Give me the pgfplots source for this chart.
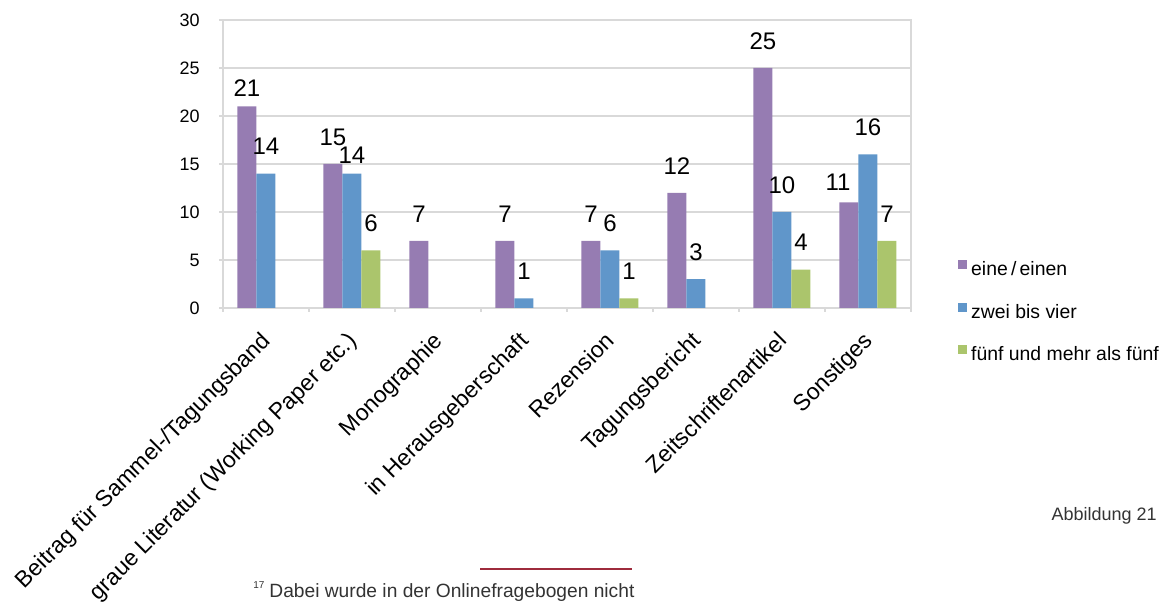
\documentclass[border=0pt]{standalone}
\usepackage{pgfplots}
\pgfplotsset{compat=1.18}
\usepackage{pgfplotstable}
\usepackage{fontspec}
\setmainfont{Liberation Sans}
\definecolor{cP}{HTML}{967CB2}
\definecolor{cB}{HTML}{6096CA}
\definecolor{cG}{HTML}{ABC56C}
\definecolor{gridc}{HTML}{D9D9D9}
\definecolor{fnred}{HTML}{9E2B3C}

\pgfplotstableread{
x y dy dx
0 21 9 0
1 15 13.5 0
2 7 13.5 0
3 7 13.5 0
4 7 13.5 0
5 12 13.5 0
6 25 13.5 0
7 11 10 -5.5
}\tabP
\pgfplotstableread{
x y dy dx
0 14 13.5 0
1 14 9 0
3 1 13.5 0
4 6 13.5 0
5 3 13.5 0
6 10 13.5 0
7 16 13.5 0
}\tabB
\pgfplotstableread{
x y dy dx
1 6 13.5 0
4 1 13.5 0
6 4 13.5 0
7 7 13.5 0
}\tabG

\begin{document}
\begin{tikzpicture}
\useasboundingbox (0,0) rectangle (581.5pt,302.5pt);
\begin{axis}[
  at={(111.5pt,148.5pt)}, anchor=south west,
  scale only axis, width=344pt, height=144pt,
  xmin=-0.5, xmax=7.5, ymin=0, ymax=30,
  /pgf/number format/assume math mode=true,
  ytick={0,5,...,30},
  xtick={-0.5,0.5,...,7.5},
  xticklabels={},
  extra x ticks={0,1,2,3,4,5,6,7},
  extra x tick labels={Beitrag für Sammel-/Tagungsband,graue Literatur (Working Paper etc.),Monographie,in Herausgeberschaft,Rezension,Tagungsbericht,Zeitschriftenartikel,Sonstiges},
  extra x tick style={major tick length=0pt,
     xticklabel style={xshift=-3pt, yshift=-11pt, rotate=45, anchor=north east, inner sep=0pt, font=\fontsize{11.5}{11.5}\selectfont}},
  ymajorgrids, major grid style={gridc, line width=1pt},
  axis line style={gridc, line width=1pt},
  tick style={gridc, line width=1pt},
  tick align=outside, tick pos=left,
  major tick length=2pt,
  yticklabel style={inner sep=0pt, xshift=-9.5pt, font=\fontsize{9}{9}\selectfont},
  ybar, bar width=9.5pt,
  legend style={at={(rel axis cs:1.068,0.168)}, anchor=north west, draw=none, fill=none,
     inner sep=0pt, row sep=12pt, column sep=2pt, font=\fontsize{9.7}{9.7}\selectfont, nodes={inner sep=0pt}},
  legend cell align=left,
  nodes near coords,
  visualization depends on={\thisrow{dy}\as\dy},
  visualization depends on={\thisrow{dx}\as\dx},
  nodes near coords style={anchor=center, yshift=\dy pt, xshift=\dx pt, font=\fontsize{12}{12}\selectfont, text=black},
]
\addplot[fill=cP, draw=none, bar shift=-9.5pt,
  legend image code/.code={\fill[cP] (0pt,0.5pt) rectangle (4.5pt,5pt);}] table[x=x,y=y] {\tabP};
\addlegendentry{eine\,/\,einen}
\addplot[fill=cB, draw=none, bar shift=0pt,
  legend image code/.code={\fill[cB] (0pt,0.5pt) rectangle (4.5pt,5pt);}] table[x=x,y=y] {\tabB};
\addlegendentry{zwei bis vier}
\addplot[fill=cG, draw=none, bar shift=9.5pt,
  legend image code/.code={\fill[cG] (0pt,0.5pt) rectangle (4.5pt,5pt);}] table[x=x,y=y] {\tabG};
\addlegendentry{fünf und mehr als fünf}
\end{axis}
\node[anchor=east, inner sep=0pt, font=\fontsize{9}{9}\selectfont, text=black!80] at (578.5pt,44.5pt) {Abbildung 21};
\draw[fnred, line width=1pt] (240pt,18pt) -- (316pt,18pt);
\node[anchor=base west, inner sep=0pt, font=\fontsize{5}{5}\selectfont, text=black!80] at (126.5pt,8pt) {17};
\node[anchor=base west, inner sep=0pt, font=\fontsize{9.6}{9.6}\selectfont, text=black!80] at (134.5pt,3.5pt) {Dabei wurde in der Onlinefragebogen nicht};
\end{tikzpicture}
\end{document}
